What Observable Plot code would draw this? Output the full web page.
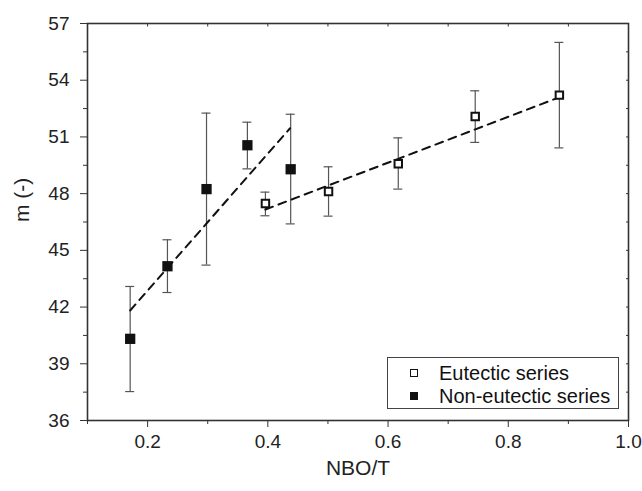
<!DOCTYPE html>
<html>
<head>
<meta charset="utf-8">
<script src="https://cdn.jsdelivr.net/npm/d3@7"></script>
<script src="https://cdn.jsdelivr.net/npm/@observablehq/plot@0.6"></script>
<style>
  html, body { margin: 0; padding: 0; background: #fff; }
  #wrap { position: relative; width: 642px; height: 491px; font-family: "Liberation Sans", Arial, sans-serif; }
  #legend { position: absolute; left: 387px; top: 357px; width: 232px; height: 52px; border: 1px solid #444; background: #fff; color: #111; font-size: 20px; box-sizing: border-box; }
  #legend .row { position: absolute; left: 0; height: 22px; line-height: 22px; white-space: nowrap; }
  #legend .sym { position: absolute; left: 22px; top: 7px; width: 8px; height: 8px; box-sizing: border-box; }
  #legend .open { border: 1.6px solid #111; background: #fff; }
  #legend .fill { background: #111; }
  #legend .lab { position: absolute; left: 51px; top: 0; }
</style>
</head>
<body>
<div id="wrap"></div>
<script>
// ---- data ----
const eutX  = [0.396, 0.501, 0.617, 0.745, 0.885];
const eutM  = [47.48, 48.11, 49.58, 52.08, 53.21];
const eutLo = [46.83, 46.81, 48.24, 50.71, 50.42];
const eutHi = [48.08, 49.42, 50.95, 53.44, 56.00];

const nonX  = [0.171, 0.233, 0.298, 0.366, 0.438];
const nonM  = [40.32, 44.16, 48.24, 50.56, 49.29];
const nonLo = [37.53, 42.77, 44.22, 49.31, 46.40];
const nonHi = [43.09, 45.56, 52.26, 51.78, 52.20];

// dashed fit lines (end points)
const fitEutX = [0.396, 0.885];
const fitEutM = [47.16, 53.10];
const fitNonX = [0.171, 0.437];
const fitNonM = [41.82, 51.46];

// ticks
const xMajor = [0.2, 0.4, 0.6, 0.8, 1.0];
const xMinor = [0.1, 0.3, 0.5, 0.7, 0.9];
const xTop   = [0.1, 0.2, 0.3, 0.4, 0.5, 0.6, 0.7, 0.8, 0.9, 1.0];
const yMajor = [36, 39, 42, 45, 48, 51, 54, 57];
const yMinor = [37.5, 40.5, 43.5, 46.5, 49.5, 52.5, 55.5];
const yRight = [37.5, 39, 40.5, 42, 43.5, 45, 46.5, 48, 49.5, 51, 52.5, 54, 55.5];

const seriesNames = ["Eutectic series", "Non-eutectic series"];
const xLabel = "NBO/T";
const yLabel = "m (-)";

// ---- tables ----
const eut = eutX.map((x, i) => ({x, m: eutM[i], lo: eutLo[i], hi: eutHi[i]}));
const non = nonX.map((x, i) => ({x, m: nonM[i], lo: nonLo[i], hi: nonHi[i]}));
const fitEut = fitEutX.map((x, i) => ({x, m: fitEutM[i]}));
const fitNon = fitNonX.map((x, i) => ({x, m: fitNonM[i]}));
const all = eut.concat(non);

const blank = () => "";
const errCol = "#555";

const chart = Plot.plot({
  width: 642,
  height: 491,
  marginLeft: 87,
  marginRight: 14,
  marginTop: 23,
  marginBottom: 71,
  style: {fontFamily: "'Liberation Sans', Arial, sans-serif", fontSize: "19px", color: "#222", background: "#fff", overflow: "visible"},
  x: {domain: [0.1, 1.0]},
  y: {domain: [36, 57]},
  marks: [
    Plot.axisX({ticks: xMajor, tickSize: 7, tickPadding: 7, tickFormat: d3.format(".1f"), label: null, fontSize: 19, stroke: "#333"}),
    Plot.axisX({ticks: xMinor, tickSize: 4, tickFormat: blank, label: null, stroke: "#333"}),
    Plot.axisX({anchor: "top", ticks: xTop, tickSize: 2.5, insetTop: 2.5, tickFormat: blank, label: null, stroke: "#333"}),
    Plot.axisY({ticks: yMajor, tickSize: 7, tickPadding: 11, label: null, fontSize: 19, stroke: "#333"}),
    Plot.axisY({ticks: yMinor, tickSize: 4, tickFormat: blank, label: null, stroke: "#333"}),
    Plot.axisY({anchor: "right", ticks: yRight, tickSize: 3, insetRight: 3, tickFormat: blank, label: null, stroke: "#333"}),
    Plot.frame({stroke: "#333", strokeWidth: 1.6}),
    // error bars
    Plot.ruleX(all, {x: "x", y1: "lo", y2: "hi", stroke: errCol, strokeWidth: 1.2}),
    Plot.ruleY(all, {y: "lo", x1: "x", x2: "x", insetLeft: -4.5, insetRight: -4.5, stroke: errCol, strokeWidth: 1.2}),
    Plot.ruleY(all, {y: "hi", x1: "x", x2: "x", insetLeft: -4.5, insetRight: -4.5, stroke: errCol, strokeWidth: 1.2}),
    // fit lines
    Plot.line(fitNon, {x: "x", y: "m", stroke: "#111", strokeWidth: 2, strokeDasharray: "8,6"}),
    Plot.line(fitEut, {x: "x", y: "m", stroke: "#111", strokeWidth: 2, strokeDasharray: "8,6"}),
    // points
    Plot.dot(non, {x: "x", y: "m", symbol: "square", r: 5.8, fill: "#111", stroke: "none"}),
    Plot.dot(eut, {x: "x", y: "m", symbol: "square", r: 4.2, fill: "#fff", stroke: "#111", strokeWidth: 2}),
    // axis titles
    Plot.text([xLabel], {text: d => d, frameAnchor: "bottom", dy: 54, fontSize: 21, fill: "#222"}),
    Plot.text([yLabel], {text: d => d, frameAnchor: "left", dx: -65, rotate: -90, fontSize: 21, fill: "#222"})
  ]
});

const wrap = document.getElementById("wrap");
wrap.appendChild(chart);

const legend = document.createElement("div");
legend.id = "legend";
const rowTops = [4, 27];
const symClass = ["open", "fill"];
seriesNames.forEach((name, i) => {
  const row = document.createElement("div");
  row.className = "row";
  row.style.top = rowTops[i] + "px";
  const s = document.createElement("span");
  s.className = "sym " + symClass[i];
  const t = document.createElement("span");
  t.className = "lab";
  t.textContent = name;
  row.appendChild(s);
  row.appendChild(t);
  legend.appendChild(row);
});
wrap.appendChild(legend);
</script>
</body>
</html>
